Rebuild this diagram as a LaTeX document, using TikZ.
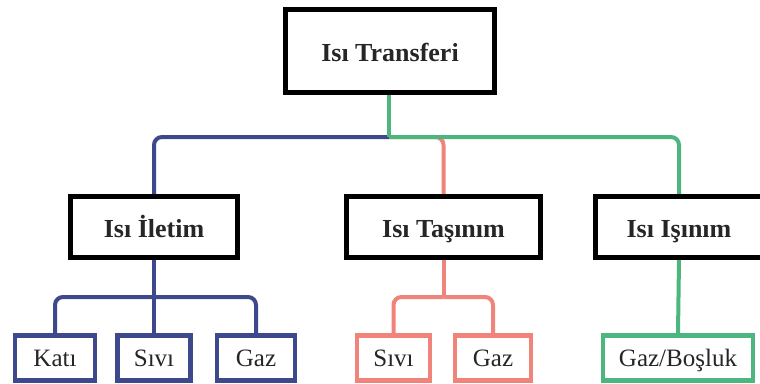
\documentclass[tikz,border=0pt]{standalone}
\usepackage{fontspec}
\setmainfont{Liberation Serif}
\definecolor{navyline}{HTML}{3E488C}
\definecolor{salmonline}{HTML}{F0837A}
\definecolor{greenline}{HTML}{4CB67E}
\definecolor{inkgray}{HTML}{262626}
\begin{document}
\begin{tikzpicture}[x=1pt,y=-1pt,
  headbox/.style={draw=black,line width=5pt,fill=white,rectangle,inner sep=0pt,
    minimum height=61pt,text height=20pt,text depth=0pt,text=inkgray,
    font=\bfseries\fontsize{26}{30}\selectfont},
  leafbox/.style={draw=#1,line width=4.5pt,fill=white,rectangle,inner sep=0pt,
    minimum height=45pt,text height=16pt,text depth=0pt,text=inkgray,
    font=\fontsize{25}{29}\selectfont},
  link/.style={draw=#1,line width=4pt},
  bend/.style={draw=#1,line width=4pt,rounded corners=8pt}]
\useasboundingbox (0,0) rectangle (760,383);
\fill[white] (0,0) rectangle (760,383);

% tree nodes
\node[headbox,minimum width=209pt,minimum height=83pt] (root) at (390,51) {Isı Transferi};
\node[headbox,minimum width=167pt] (iletim) at (154,227) {Isı İletim};
\node[headbox,minimum width=194pt] (tasinim) at (443.5,227) {Isı Taşınım};
\node[headbox,minimum width=167pt] (isinim) at (679,227) {Isı Işınım};

\node[leafbox=navyline,minimum width=80pt] (kati) at (55,358) {Katı};
\node[leafbox=navyline,minimum width=73pt] (sivia) at (154,358) {Sıvı};
\node[leafbox=navyline,minimum width=78pt] (gaza) at (256,358) {Gaz};
\node[leafbox=salmonline,minimum width=73pt] (sivib) at (393.5,358) {Sıvı};
\node[leafbox=salmonline,minimum width=76pt] (gazb) at (493,358) {Gaz};
\node[leafbox=greenline,minimum width=150pt] (bosluk) at (678,358) {Gaz/Boşluk};

% junction points
\coordinate (jtop) at (389,137);
\coordinate (jil) at (154,297);
\coordinate (jta) at (443.5,297);

% first level connectors (green drawn last, over the salmon branch)
\path[bend=salmonline] (jtop) -| (tasinim.north);
\path[bend=navyline] (jtop) -| (iletim.north);
\path[bend=greenline] (jtop) -| (isinim.north);
\path[link=greenline] (root.south -| jtop) -- (jtop);

% second level connectors
\path[link=navyline] (iletim.south) -- (sivia.north);
\path[bend=navyline] (jil) -| (kati.north);
\path[bend=navyline] (jil) -| (gaza.north);
\path[link=salmonline] (tasinim.south) -- (jta);
\path[bend=salmonline] (jta) -| (sivib.north);
\path[bend=salmonline] (jta) -| (gazb.north);
\path[link=greenline] (isinim.south) -- (bosluk.north);

% boxes drawn again over the connector ends
\node[headbox,minimum width=209pt,minimum height=83pt] at (root) {Isı Transferi};
\node[headbox,minimum width=167pt] at (iletim) {Isı İletim};
\node[headbox,minimum width=194pt] at (tasinim) {Isı Taşınım};
\node[headbox,minimum width=167pt] at (isinim) {Isı Işınım};
\end{tikzpicture}
\end{document}
